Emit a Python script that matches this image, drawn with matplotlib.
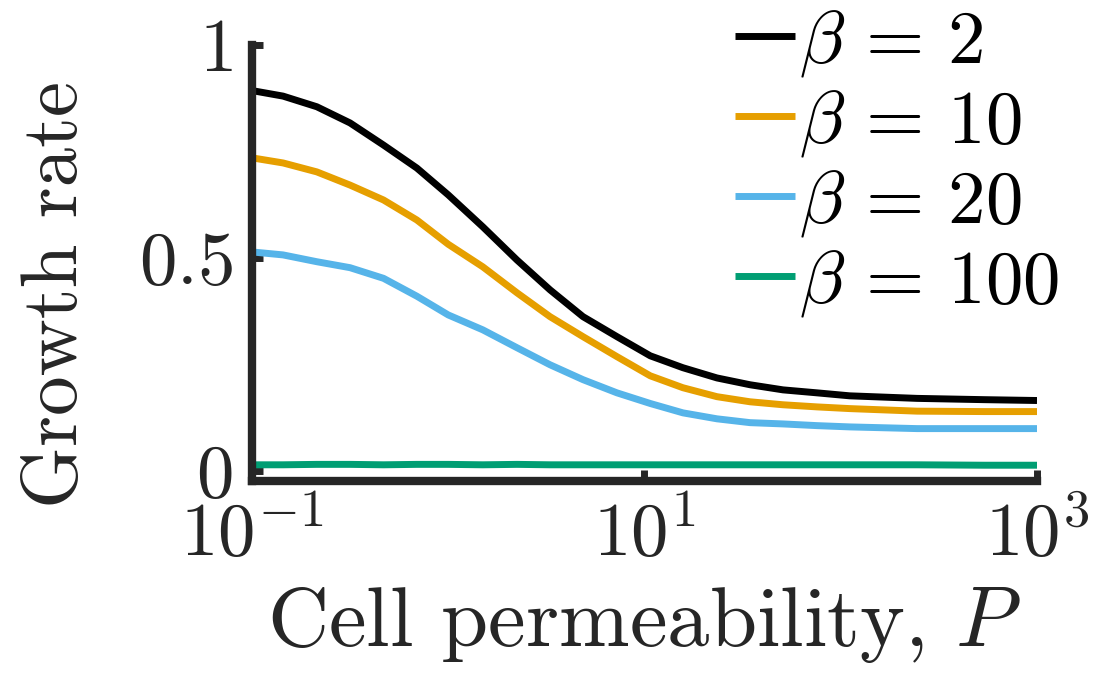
import matplotlib
matplotlib.use('Agg')
import matplotlib.pyplot as plt

plt.rcParams['mathtext.fontset'] = 'cm'
plt.rcParams['font.family'] = 'cmr10'
plt.rcParams['axes.formatter.use_mathtext'] = True

P = [0.1, 0.144, 0.214, 0.316, 0.468, 0.692, 1.0, 1.50, 2.24, 3.30, 4.86, 7.24,
     10.7, 15.7, 23.4, 34.5, 50.8, 75.7, 111, 245, 537, 1000]

growth_b2 = [0.893, 0.880, 0.855, 0.817, 0.765, 0.711, 0.648, 0.573, 0.495, 0.425, 0.362, 0.315,
             0.270, 0.242, 0.218, 0.202, 0.190, 0.183, 0.176, 0.170, 0.167, 0.165]
growth_b10 = [0.735, 0.723, 0.702, 0.671, 0.636, 0.589, 0.532, 0.479, 0.418, 0.362, 0.315, 0.268,
              0.223, 0.195, 0.174, 0.162, 0.155, 0.150, 0.146, 0.140, 0.139, 0.139]
growth_b20 = [0.514, 0.507, 0.491, 0.477, 0.452, 0.410, 0.366, 0.331, 0.289, 0.249, 0.214, 0.183,
              0.158, 0.136, 0.122, 0.113, 0.110, 0.106, 0.103, 0.099, 0.099, 0.099]
growth_b100 = [0.014, 0.014, 0.015, 0.015, 0.014, 0.015, 0.015, 0.014, 0.015, 0.014, 0.014, 0.014,
               0.014, 0.014, 0.014, 0.014, 0.014, 0.014, 0.014, 0.014, 0.013, 0.013]

labels = [r'$\beta\,=\,2$', r'$\beta\,=\,10$', r'$\beta\,=\,20$', r'$\beta\,=\,100$']
colors = ['#000000', '#E69F00', '#56B4E9', '#009E73']

x_ticks = [0.1, 10, 1000]
x_tick_labels = [r'$10^{-1}$', r'$10^{1}$', r'$10^{3}$']
y_ticks = [0, 0.5, 1]
y_tick_labels = [r'$0$', r'$0.5$', r'$1$']

axis_color = '#262626'

fig = plt.figure(figsize=(11.11, 6.78), dpi=100)
ax = fig.add_axes([0.2268, 0.2906, 0.7066, 0.643])

series = [growth_b2, growth_b10, growth_b20, growth_b100]
for ys, lab, col in zip(series, labels, colors):
    ax.plot(P, ys, color=col, lw=5, label=lab, solid_capstyle='butt')

ax.set_xscale('log')
ax.set_xlim(0.1, 1000)
ax.set_ylim(-0.024, 1.0)

ax.set_xticks(x_ticks)
ax.set_xticklabels(x_tick_labels)
ax.set_yticks(y_ticks)
ax.set_yticklabels(y_tick_labels)
ax.minorticks_off()

for side in ['top', 'right']:
    ax.spines[side].set_visible(False)
for side in ['left', 'bottom']:
    ax.spines[side].set_linewidth(6)
    ax.spines[side].set_color(axis_color)
    ax.spines[side].set_capstyle('projecting')

ax.tick_params(direction='in', length=8, width=5, colors=axis_color, labelsize=54, pad=14)

ax.set_xlabel(r'Cell permeability, $P$', fontsize=61, color=axis_color, labelpad=10)
ax.set_ylabel('Growth rate', fontsize=57, color=axis_color)
ax.yaxis.set_label_coords(-0.203, 0.427)

leg = ax.legend(loc='upper left', bbox_to_anchor=(735 / 1111, 1 - 8 / 678),
                bbox_transform=fig.transFigure, frameon=False, fontsize=54,
                handlelength=0.8, handletextpad=0.05, labelspacing=0.12,
                borderpad=0, borderaxespad=0)

fig.savefig('out.png', dpi=100)
